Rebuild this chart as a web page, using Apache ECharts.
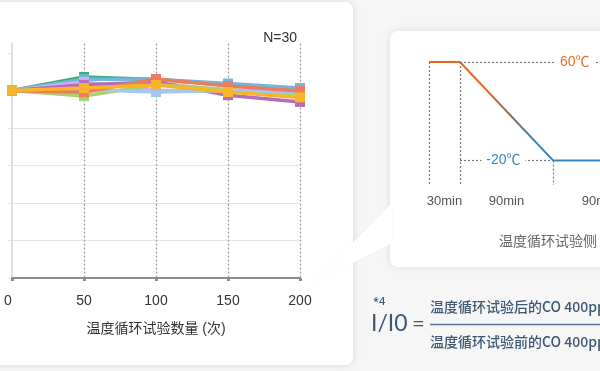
<!DOCTYPE html>
<html><head><meta charset="utf-8">
<script src="https://cdn.jsdelivr.net/npm/echarts@6/dist/echarts.min.js"></script>
<style>html,body{margin:0;padding:0;background:#f6f6f6}#c{width:600px;height:371px}</style>
</head><body><div id="c"></div>
<script>
// ---- main chart data ----
const cycles = [0, 50, 100, 150, 200];
const xTicks = [0, 50, 100, 150, 200];
const yTicks = [0, 0.2, 0.4, 0.6, 0.8, 1.0, 1.2];
const seriesNames = ['S1','S2','S3','S4','S5','S6','S7','S8','S9'];
const sGreen      = [1.00, 1.072, 1.058, 1.030, 1.005];
const sSkyBlue    = [1.00, 1.060, 1.060, 1.037, 1.013];
const sLavender   = [1.00, 1.045, 1.000, 1.000, 0.985];
const sPink       = [1.00, 1.025, 1.040, 1.000, 0.990];
const sPurple     = [1.00, 1.030, 1.045, 0.975, 0.939];
const sLightGreen = [1.00, 0.971, 1.030, 1.005, 0.981];
const sPeriwinkle = [1.00, 1.005, 0.992, 1.000, 0.990];
const sSalmon     = [1.00, 0.990, 1.061, 1.024, 0.997];
const sYellow     = [1.00, 1.013, 1.029, 0.992, 0.963];
const seriesValues = [sGreen, sSkyBlue, sLavender, sPink, sPurple, sLightGreen, sPeriwinkle, sSalmon, sYellow];
const seriesColors = ['#3daf6e','#6fb7dc','#d5aef0','#f3a5c0','#b56cbc','#a9d26e','#a5c5f2','#ee7b5b','#f7b52a'];

// ---- temperature profile data ----
const profileTime = [0, 30, 120, 210];
const profileTemp = [60, 60, -20, -20];
const stageMid = [15, 75, 165];
const stageLabels = ['30min', '90min', '90min'];
const tempLevels = [60, -20];
const tempLabels = ['60℃', '-20℃'];

const chart = echarts.init(document.getElementById('c'), null, {renderer: 'canvas'});
const cjk = '"Liberation Sans", "Noto Sans CJK SC", sans-serif';
const formulaColor = '#3e5874';

const mainSeries = seriesValues.map((vals, i) => ({
  name: seriesNames[i], type: 'line', xAxisIndex: 0, yAxisIndex: 0,
  data: cycles.map((c, j) => [c, vals[j]]),
  symbol: 'rect', symbolSize: 10, showSymbol: true,
  lineStyle: {width: 3.5, color: seriesColors[i]},
  itemStyle: {color: seriesColors[i]},
  z: 3 + i, silent: true, animation: false
}));

const tempSeries = {
  type: 'line', xAxisIndex: 1, yAxisIndex: 1,
  data: profileTime.map((t, i) => [t, profileTemp[i]]),
  symbol: 'none', silent: true, animation: false,
  lineStyle: {width: 2, color: new echarts.graphic.LinearGradient(0, 0, 0, 1, [
    {offset: 0, color: '#e8661f'}, {offset: 0.3, color: '#e06a2a'},
    {offset: 0.55, color: '#8a6a5a'}, {offset: 0.8, color: '#2f84c3'}, {offset: 1, color: '#2f84c3'}])},
  markLine: {
    silent: true, symbol: 'none', animation: false,
    label: {show: false},
    lineStyle: {type: [2, 2], color: '#777', width: 1.2},
    data: [
      [{coord: [profileTime[0], profileTemp[0]]}, {coord: [profileTime[0], -40]}],
      [{coord: [profileTime[1], profileTemp[1]]}, {coord: [profileTime[1], -40]}],
      [{coord: [profileTime[2], profileTemp[2]]}, {coord: [profileTime[2], -40]}],
      [{coord: [profileTime[1], tempLevels[0]]}, {coord: [180, tempLevels[0]]}],
      [{coord: [profileTime[1], tempLevels[1]]}, {coord: [profileTime[2], tempLevels[1]]}]
    ]
  },
  markPoint: {
    silent: true, animation: false, symbol: 'rect',
    itemStyle: {color: '#fff'},
    data: [
      {coord: [141, tempLevels[0]], symbolSize: [40, 14],
       label: {show: true, position: 'inside', formatter: tempLabels[0], color: '#ec6f2d', fontSize: 14, fontFamily: cjk}},
      {coord: [72, tempLevels[1]], symbolSize: [44, 14],
       label: {show: true, position: 'inside', formatter: tempLabels[1], color: '#3288c6', fontSize: 14, fontFamily: cjk}}
    ]
  }
};

const option = {
  backgroundColor: '#f6f6f6',
  animation: false,
  title: {text: 'N=30', right: 298, top: 26, textStyle: {fontSize: 14, fontWeight: 'normal', color: '#333', fontFamily: cjk}},
  graphic: [
    {type: 'rect', z: -10, shape: {x: -20, y: 2, width: 373, height: 363, r: 8},
     style: {fill: '#fff', shadowBlur: 8, shadowColor: 'rgba(0,0,0,0.13)'}},
    {type: 'rect', z: -10, shape: {x: 390, y: 31, width: 240, height: 236, r: 8},
     style: {fill: '#fff', shadowBlur: 8, shadowColor: 'rgba(0,0,0,0.10)'}},
    {type: 'polygon', z: -9, shape: {points: [[313, 283], [392, 203], [392, 243]]},
     style: {fill: '#fff', shadowBlur: 3, shadowColor: 'rgba(0,0,0,0.04)'}},
    {type: 'text', z: 5, x: 499, y: 241, style: {text: '温度循环试验侧', fill: '#666', verticalAlign: 'middle', font: '14px "Noto Sans CJK SC"'}},
    {type: 'text', z: 5, x: 373, y: 302, style: {text: '*4', fill: formulaColor, verticalAlign: 'middle', font: '500 11px "Noto Sans"'}},
    {type: 'text', z: 5, x: 371, y: 324, style: {text: 'I/I0', fill: formulaColor, verticalAlign: 'middle', font: '400 23px Lato'}},
    {type: 'text', z: 5, x: 412, y: 324, style: {text: '=', fill: formulaColor, verticalAlign: 'middle', font: '400 22px Lato'}},
    {type: 'text', z: 5, x: 430, y: 307, style: {text: '温度循环试验后的CO 400ppm灵敏度', fill: formulaColor, verticalAlign: 'middle', font: '500 14px "Noto Sans CJK SC"'}},
    {type: 'line', z: 5, shape: {x1: 430, y1: 324.5, x2: 610, y2: 324.5}, style: {stroke: '#5b7391', lineWidth: 1.5}},
    {type: 'text', z: 5, x: 430, y: 342, style: {text: '温度循环试验前的CO 400ppm灵敏度', fill: formulaColor, verticalAlign: 'middle', font: '500 14px "Noto Sans CJK SC"'}}
  ],
  grid: [
    {left: 12, right: 300, top: 43.6, bottom: 93, outerBoundsMode: 'none'},
    {left: 429, width: 186, top: 62, bottom: 186, outerBoundsMode: 'none'}
  ],
  xAxis: [
    {gridIndex: 0, type: 'value', min: 0, max: 200, interval: 50,
     name: '温度循环试验数量 (次)', nameLocation: 'middle', nameGap: 44,
     nameTextStyle: {fontSize: 14, color: '#333', fontFamily: cjk},
     axisLine: {lineStyle: {color: '#8c8c8c', width: 2}},
     axisTick: {show: true, length: 3, lineStyle: {color: '#8c8c8c', width: 3}},
     axisLabel: {margin: 16, fontSize: 14, color: '#333', fontFamily: cjk,
       formatter: v => v === 0 ? '{z|0}' : String(v),
       rich: {z: {fontSize: 14, color: '#333', padding: [0, 8, 0, 0]}}},
     splitLine: {show: true, showMinLine: false, lineStyle: {type: [2, 2], color: '#999', width: 1.2}}},
    {gridIndex: 1, type: 'value', min: 0, max: 180,
     axisLine: {show: false}, axisTick: {show: false}, splitLine: {show: false},
     axisLabel: {show: true, customValues: stageMid, margin: 10, fontSize: 13, color: '#555', fontFamily: cjk,
       formatter: v => stageLabels[stageMid.indexOf(v)] || ''}}
  ],
  yAxis: [
    {gridIndex: 0, type: 'value', min: 0, max: 1.25, interval: 0.2,
     axisLine: {show: true, lineStyle: {color: '#d6d6d6', width: 1.5}},
     axisTick: {show: true, length: 4, customValues: yTicks, lineStyle: {color: '#e2e2e2'}},
     axisLabel: {show: false},
     splitLine: {show: true, showMaxLine: false, lineStyle: {color: '#e4e4e4', width: 1}}},
    {gridIndex: 1, type: 'value', min: -40, max: 60, show: false}
  ],
  series: [...mainSeries, tempSeries]
};
chart.setOption(option);
</script></body></html>
